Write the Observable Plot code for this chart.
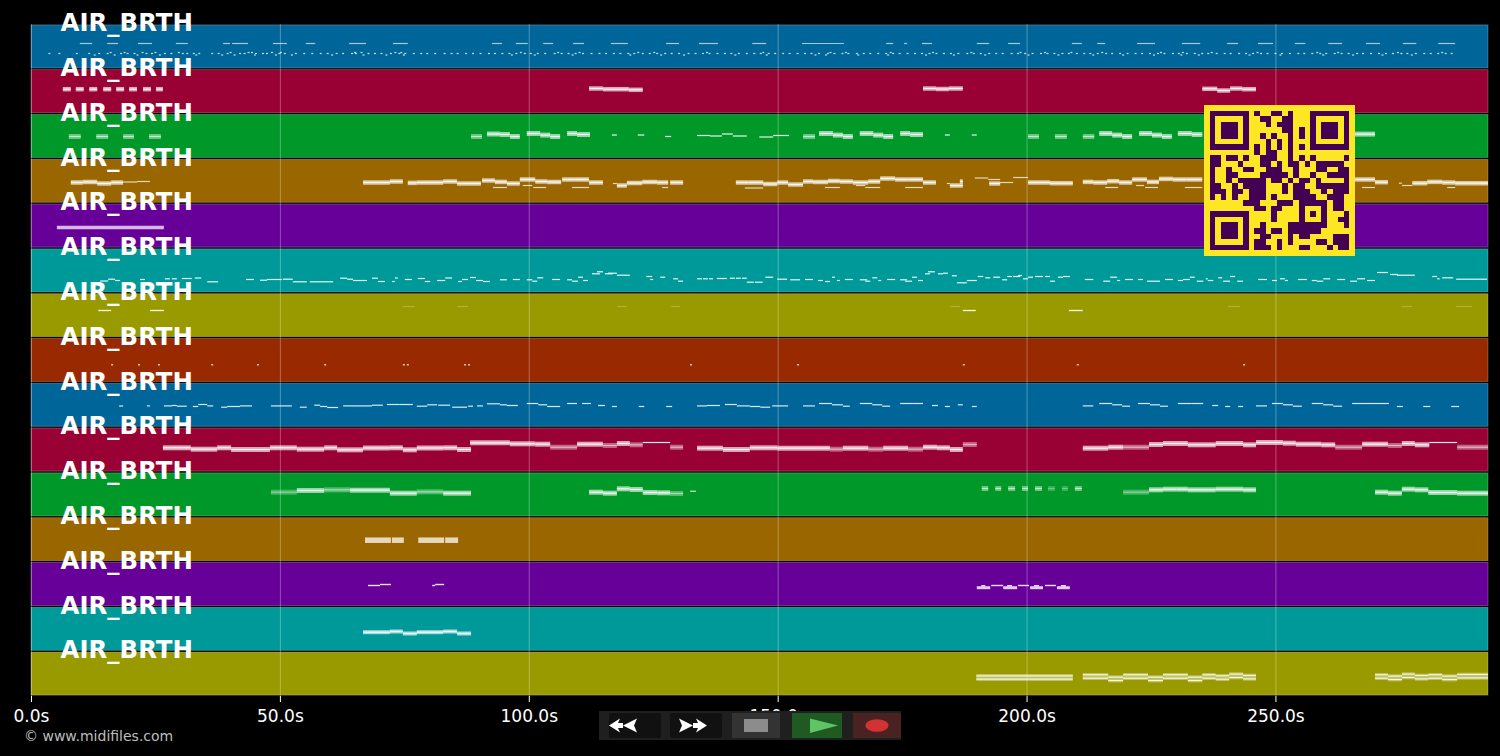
<!DOCTYPE html>
<html><head><meta charset="utf-8">
<script src="https://cdn.jsdelivr.net/npm/d3@7"></script>
<script src="https://cdn.jsdelivr.net/npm/@observablehq/plot@0.6"></script>
<style>
html,body{margin:0;padding:0;background:#000;width:1500px;height:756px;overflow:hidden;font-family:"DejaVu Sans",sans-serif}
#wrap{position:relative;width:1500px;height:756px}
#wrap svg{display:block}
#qr{position:absolute;left:1204px;top:105px;width:151px;height:151px}
#controls{position:absolute;left:599px;top:711px}
#copy{position:absolute;left:24px;top:727px;font-size:14px;color:#bdbdbd;line-height:18px}
</style></head><body>
<div id="wrap"><div id="chart"></div><div id="qr"></div>
<svg id="controls" width="302" height="29" viewBox="0 0 302 29">
<rect width="302" height="29" fill="#1f1f1f"/>
<rect x="10" y="2" width="52" height="25" rx="2" fill="#111"/>
<rect x="71" y="2" width="52" height="25" rx="2" fill="#111"/>
<rect x="133" y="2" width="48" height="25" fill="#333"/>
<rect x="193" y="2" width="50" height="25" fill="#1f5a22"/>
<rect x="254" y="2" width="48" height="25" fill="#4a2222"/>
<path fill="#fff" d="M10 14.5 L21 7.5 L19 12 L24 12 L24 17 L19 17 L21 21.5 Z M24 14.5 L38 7.5 L35 14.5 L38 21.5 Z"/>
<path fill="#fff" d="M108 14.5 L97 7.5 L99 12 L94 12 L94 17 L99 17 L97 21.5 Z M94 14.5 L80 7.5 L83 14.5 L80 21.5 Z"/>
<rect x="145" y="8" width="24" height="13" fill="#8c8c8c"/>
<path fill="#5fc463" d="M211 7.5 L239 14.5 L211 22 Z"/>
<ellipse cx="278" cy="14.5" rx="11.5" ry="6.3" fill="#d23232"/>
</svg>
<div id="copy">© www.midifiles.com</div></div>
<script>
const laneNames = ["AIR_BRTH","AIR_BRTH","AIR_BRTH","AIR_BRTH","AIR_BRTH","AIR_BRTH","AIR_BRTH","AIR_BRTH","AIR_BRTH","AIR_BRTH","AIR_BRTH","AIR_BRTH","AIR_BRTH","AIR_BRTH","AIR_BRTH"];
const laneColors = ["#006699","#990033","#009929","#996600","#660099","#009999","#999900","#992900","#006699","#990033","#009929","#996600","#660099","#009999","#999900"];
const tickSeconds = [0,50,100,150,200,250];
const totalSeconds = 292.7;

// Notes: [start s, end s, position in the lane (0 top – 44.8 bottom), optional velocity]
const lane0Line = [[9.8,12.3,19],[15.3,17.5,19],[21.5,24.3,19],[29.1,31.5,19],[38.6,40,19],[40.4,43.6,19],[48.6,51.4,19],[55.2,57.1,19],[63.9,67.3,19],[72.7,75.7,19],[92.6,94.6,19],[97.4,99.8,19],[102.9,104.9,19],[108.9,111.1,19],[116.5,119.9,19],[127.6,130.2,19],[134.2,138,19],[144.9,147.7,19],[154.9,163.3,19],[171.8,173.2,19],[175.4,176,19],[179,181,19],[190,192.5,19],[196.3,198.7,19],[209.1,211.1,19],[214.2,215.8,19],[222.2,225.8,19],[231.2,234.9,19],[240.3,242.5,19],[246.5,249.5,19],[253.9,256,19],[260.6,263.4,19],[268.2,271,19],[275.6,278.3,19],[282.7,286.1,19]];
const lane0DotsMid = [3.5,5.5,9,11.5,13.5,15.2,17.9,19.2,20.6,23,24.1,26.7,28,30.3,31.2,32.5,33.6,36.2,37.5,39.3,41.8,42.7,45,46.4,47.2,49.7,50.8,53,54.7,56.3,58,59.4,61.2,62.5,64.3,65.1,67.6,68.9,70.2,72.1,73.8,75,76.7,78.2,79.4,81,82.9,84.3,85.5,87.2,88.6,90.1,91.8,93,94.5,95.9,97.3,99,100.2,101.6,103.1,105,106.4,107.8,109.2,110.7,112.4,114,115.3,116.9,118.2,119.8,121,122.7,124.1,125.6,127.2,128.5,130,131.9,133.3,134.8,136.1,137.7,139.2,140.5,142,143.6,145.1,146.4,148,149.3,150.9,152.2,153.8,155.3,156.6,158.1,159.9,161.2,162.8,164,165.7,167.1,168.4,170,171.6,173,174.3,175.9,177.4,178.8,180.3,181.7,183.2,184.6,186.1,187.9,189.2,190.6,192.3,193.7,195,196.8,198.1,199.5,201,202.7,204,205.4,207,208.3,209.9,211.4,212.6,214.1,215.8,217,218.6,220.1,221.7,223,224.6,226.2,227.5,229.2,230.4,232,233.6,235.1,236.3,238,239.6,240.8,242.5,243.9,245.3,246.9,248.2,249.8,251.1,252.7,254.4,255.6,257.2,258.8,260,261.7,263.1,264.5,266.2,267.4,269,270.6,272,273.4,275.1,276.3,278,279.7,281,282.5,284,285.2];
const lane0DotsHigh = [15.8,18.6,22.2,24.8,29.5,39.9,43.5,44.2,48.2,50,64.9,66.2,73,74.2,98.2,105.7,110,121.8,125,135.6,146.9,160.4,163.5,172.5,181,188.7,198.6,203.5,208.8,215,226.8,231.2,237,246.2,258.2,262.4,274.4,283.3];
const lane0DotsLow = [12.6,16.6,21.2,25.7,33,38.2,40.7,44.8,49,52.2,60.3,66.6,71.2,74.7,96.4,101,108.6,120.2,126.4,131,141.3,147.6,157.4,159.5,166,172,179.6,185.2,191.5,200.2,206.2,213.2,219.2,225.4,230.9,234.4,244.6,250.8,259.4,265.4,271.3,277.2];

const lane1Band = [[6.4,8,19.9],[9,10.6,19.9],[11.7,13.3,19.9],[14.5,16.1,19.9],[17.1,18.7,19.9],[19.7,21.3,19.9],[22.5,24.1,19.9],[25.1,26.5,19.9],[112.1,114.9,19.2],[114.9,120.1,19.9],[120.1,122.9,20.5],[179.2,181.8,19.2],[181.8,184.4,19.7],[184.4,187.2,19.2],[235.3,238.3,19.5],[238.3,240.9,21.2],[240.9,243.3,19.2],[243.3,246.1,19.9]];

const lane2Band = [[7.6,10,22.4,70],[13.1,15.5,22.4,70],[18.5,20.7,22.4,70],[23.7,26.1,22.4,70],[88.4,90.6,22.4,70],[91.6,94.2,19.9],[94.2,96.2,20.4],[96.2,98.2,22.4],[99.6,102.3,19.4],[102.3,104.3,21],[104.3,106.3,22.4],[107.7,109.7,19.4],[109.7,112.3,20.4],[155.1,157.5,22.4,70],[158.3,161.1,19.4],[161.1,163.1,21],[163.1,165.1,22.4],[166.5,169.2,19.4],[169.2,171.2,21],[171.2,173.2,22.4],[174.6,176.6,19.4],[176.6,179.2,20.4],[200.3,202.5,22.4,70],[205.7,208.1,22.4,70],[211.3,213.6,22.4,70],[214.6,217.2,19.4],[217.2,219.2,21],[219.2,221.2,22.4],[222.6,225.2,19.4],[225.2,227.2,21],[227.2,229.2,22.4],[230.4,233.2,19.4],[233.2,235.3,20.4],[266,270,20]];
const lane2Line = [[116.7,117.7,20.9],[121.9,123.2,20.9],[127.4,128.6,22.4],[133.8,136.4,21.4],[136.4,138.8,21.9],[138.8,141,19.9],[141,143.8,21.9],[146.3,149.1,22.9],[149.1,152.3,21.4],[183.6,184.6,20.9],[189,190,20.9]];

const lane3Band = [[8,10.4,23.6],[10.4,13.3,23.1],[13.3,16.1,24.6],[16.1,18.5,23.6],[66.7,72.1,23.6],[72.1,74.7,22.6],[75.7,77.5,24],[77.5,82.8,23.6],[82.8,85.6,22.6],[85.6,87.8,24.6],[87.8,90.4,24.6],[90.6,93.2,21.6],[93.2,95.6,23],[95.6,98.2,24.6],[98.2,101.3,20.6],[101.3,103.7,22.6],[103.7,106.5,23.1],[106.7,109.1,20.6],[109.1,112.1,20.6],[112.1,114.9,23.6],[117.7,119.7,26.6],[119.7,122.8,24.1],[122.8,125.8,23.1],[125.8,128,23.6],[128.4,131,23.6],[141.6,144.2,23.6],[144.2,147.1,23.6],[147.1,149.9,25.1],[149.9,152.1,23.6],[152.1,155.1,25.6],[155.1,157.1,22.6],[157.1,160.1,23.1],[160.1,162.5,22.1],[162.5,165.1,22.6],[165.1,168.2,23.6],[168.2,170.6,22.6],[170.6,173.6,19.6],[173.6,176.2,20.6],[176.2,179.2,20.6],[179.2,181.8,23.6],[184.6,187.2,26.6],[186.6,187.2,22.6],[192.5,194.7,24.6],[200.3,204.7,23.6],[204.7,209.3,24.3],[211.3,213.4,23],[213.4,216.2,23.6],[216.2,218.6,22.3],[218.6,221.2,23.6],[221.2,224.2,20.6],[224.2,226.6,23],[226.6,229.4,20],[229.4,232.2,20.6],[232.2,235.3,20.6],[266,270,20.6],[270,272.6,23.3],[277.5,280.5,24.3],[280.5,283.5,23],[283.5,286.1,23.6],[286.1,292.7,24.3]];
const lane3Line = [[18.5,21.3,23.1],[21.3,23.9,22.6],[92.8,95.6,28.6],[98.8,100.7,26.6],[100.9,103.5,28.6],[108.7,112.1,28.6],[116.9,117.7,24.6],[126.8,128,28.6],[143.4,147.1,29.1],[159.5,162.5,28.6],[165.7,167.6,26.6],[167.6,170.6,28.6],[175.6,179.2,28.6],[184,184.6,24.6],[189.6,192.3,19.1],[192.3,194.7,20.6],[194.7,197.3,23.6],[197.3,200.3,18.6],[215.8,218.4,28.6],[222,223.6,26.6],[223.8,226.4,28.6],[231.8,235.3,28.6],[267.4,270,28.6],[274.8,275.4,24.3],[275.4,277.5,26.6],[284.5,286.1,28.6]];

const lane4Band = [[5.2,26.7,23.8]];

const lane5Line = [[13.9,15.5,32.5],[15.5,16.9,30.7],[16.9,17.9,32],[21.9,22.9,31],[26.9,27.9,30.3],[28.3,29.3,30.3],[30.3,32.3,30],[32.9,34.2,29.5],[35.4,37.6,33.3],[43.2,44.8,31],[46,47.4,31.7],[47.4,50.4,31],[50.6,52.6,30.7],[52.6,55.4,33.3],[56,60.7,33.3],[62.1,63.5,29.7],[63.5,64.7,30.7],[64.7,67.5,32],[68.5,69.7,29.7],[69.7,71.1,33],[72.5,73.1,33],[73.1,73.7,29.5],[75.1,76.5,31],[77.7,79.1,30],[79.1,80.2,33],[81.6,83.2,32],[83.2,84.6,29.5],[85.8,86.6,33],[86.6,87.8,31],[88.2,89.4,29],[89.4,90.8,32],[90.8,92.2,33],[94.2,95.6,31.3],[96.8,98.2,31],[99.6,100.7,31.3],[100.7,101.7,32.7],[101.7,102.9,29.3],[104.7,106.3,31],[107.7,108.7,31.3],[108.7,109.9,32.7],[109.9,110.9,28.7],[110.9,111.9,32],[112.7,114.3,25.3],[113.7,114.9,23.3],[115.3,116.9,25.3],[115.9,117.7,24.7],[117.7,120.3,26.7],[123.6,124.8,28],[124.4,125,31],[126.4,127.4,28.7],[129,130,30.3],[130,131,32.7],[133.8,134.8,30.3],[135,136,30.3],[136.2,137,30.3],[137.8,139.8,30],[140.4,141.4,29.7],[141.6,142.6,29.7],[142.8,143.8,29.7],[143.8,145.2,33.7],[145.4,147,33.7],[147.5,149.1,28.7],[149.9,151.9,30.7],[152.5,153.1,31.3],[153.1,154.5,31.3],[155.5,157.1,31],[158.1,159.1,32],[159.5,160.5,33],[160.9,161.5,28.7],[161.9,162.5,32],[163.5,165.1,31],[166.5,168,31.3],[167.6,168.6,32.7],[169,170,29.3],[170.2,170.8,32],[172,173.6,31],[174.6,176,31.3],[175.6,177,32.7],[177,178,28.7],[178.2,179.2,32],[179.6,180.6,25.3],[180.2,181.6,23.3],[182.2,183.2,25.3],[183.2,184.2,24.7],[185,186,27.3],[186,188,34.3],[188,190,32],[190.2,191.3,28],[191.7,192.7,29.3],[193.3,194.7,28.7],[195.1,196.1,31.3],[196.1,197.1,28],[197.3,198.7,28],[198.3,199.1,27],[199.3,200.3,30.3],[200.3,201.3,28.7],[201.7,203.3,28],[203.7,204.7,28],[204.7,205.7,32.7],[206.3,207.3,28.7],[207.3,208.7,28],[211.7,213.4,31],[215.4,216.8,32.7],[216.8,218.2,28.7],[218.2,218.8,32],[219.8,221.4,31],[222.4,223.4,31],[224.2,226.8,32.7],[227.8,229.4,31],[230.4,231.4,32],[231.4,232.8,31],[232.8,233.8,28.7],[234.2,235.5,32.7],[236,236.4,30.3],[236.4,237.5,32],[238.5,239.3,29.3],[239.5,240.9,32.7],[240.9,241.9,28],[242.3,243.5,32.7],[246.5,248.3,31],[249.3,250.3,32],[250.9,251.9,30.3],[251.9,252.5,32],[254.5,256.3,31],[257.3,258.3,32],[258.3,259.6,32.7],[259.6,261,30.3],[262.4,264,31],[265,266.4,32.7],[266.4,268,30.3],[268.4,270,32],[270.4,272.6,24],[273,274.6,26],[274.4,278,26.7],[281.5,282.5,28],[282.5,283,30.3],[283.5,284.5,29.3],[284.5,285.7,29.3],[286.3,292.5,30.7]];

const lane6Line = [[13.5,16.1,17.2],[23.9,26.7,17.2],[187.2,189.8,17.2],[208.5,211.3,17.2],[74.7,77.1,13.2,25],[85.6,87.8,13.2,25],[117.7,119.7,13.2,25],[128.6,130.4,13.2,25],[184.6,186.6,13.2,25],[240.5,242.9,13.2,25],[275.4,277.5,13.2,25],[286.3,289.5,13.2,25]];
const lane7Dots = [16.1,21.5,25.5,36.2,45.4,58.9,74.7,75.5,87,87.8,132.4,153.9,187.2,210.1,243.5];

const lane8Line = [[17.7,18.5,23.1],[23.3,23.9,23],[26.7,28.3,23],[28.3,29.3,22.6],[29.3,31.3,23.3],[32.5,33.6,23.6],[33.6,35.4,21.6],[35.4,36.6,23],[38.2,39.4,24.3],[39.4,42,23.6],[42,44.4,23],[48.2,50.6,23],[50.6,52.4,23],[54,55.4,24.3],[56.9,58.1,22.3],[58.1,59.5,23.6],[59.5,61.7,24.6],[62.7,64.1,23],[64.1,68.5,23],[68.5,70.7,22.3],[71.5,74.1,21.6],[74.1,76.7,21.6],[77.5,79.6,23.3],[79.6,81.6,21.9],[81.8,84.2,22.3],[84.6,87.6,24.3],[87.8,88.8,23.3],[89.6,90.8,23],[91.6,94.2,20.9],[94.2,95.6,21.9],[95.6,97.8,22.6],[99.6,101.9,20.6],[101.9,103.7,21.9],[103.7,106.3,23.6],[107.7,109.7,20.6],[110.7,112.5,20.6],[113.9,115.3,22.6],[116.7,117.7,23.6],[122.1,123.2,23.6],[127.6,128.8,23.6],[133.8,135.8,23],[135.8,138.4,22.6],[139.4,141.8,21.6],[141.8,144.4,23],[144.4,146.5,23.6],[146.5,148.5,24.3],[148.9,152.1,23],[155.1,157.5,23],[158.3,160.9,20.6],[160.9,163.1,21.9],[163.1,164.5,23.3],[166.5,169,20.6],[169,171,21.9],[171,172.6,23.3],[174.6,177,20.6],[177,179.2,20.6],[181,182.2,22.6],[183.6,184.6,23.6],[186.2,187.2,21.9],[189,190,23.6],[211.3,213.4,23],[214.6,217.2,20.6],[217.2,219.2,21.9],[219.2,220.8,23.3],[222.4,224.8,20.6],[224.8,226.8,21.9],[226.8,228.4,23.3],[230.4,233.2,20.6],[233.2,235.5,20.6],[237.3,238.5,22.6],[239.9,240.9,23.6],[242.5,243.5,23.6],[246.1,248.3,23],[249.3,251.5,20.6],[251.5,253.5,21.9],[253.5,255.3,23.3],[257.3,259.6,20.6],[259.6,261.6,21.9],[261.6,263.4,23.3],[265.4,268,20.6],[268,272.8,20.6],[274.4,275.6,23.6],[279.7,281.1,23.6],[285.3,286.9,23.6]];

const lane9Band = [[26.5,32.1,20.1],[32.1,37.4,21.5],[37.4,40.2,20.1],[40.2,45.4,21.8],[45.4,48,21.8],[48,53.4,20.1],[53.4,58.9,21.5],[58.9,61.5,20.1],[61.5,66.7,22.1],[66.7,72.1,20.3],[72.1,74.7,20.1],[74.7,77.5,22.1],[77.5,82.8,20.3],[82.8,85.6,20.1],[85.6,88.4,21.8],[88.2,96.2,15.1],[96.2,101.3,16.1],[101.3,104.3,16.5],[104.3,109.7,19.5,60],[109.7,114.9,16.5],[114.9,117.7,17.8,60],[117.7,120.3,15.8],[120.3,122.9,17.1,60],[128.4,131,19.5,60],[133.8,139,20.5],[139,144.4,21.8],[144.4,149.9,20.1],[149.9,160.5,20.5],[160.5,163.1,21.5,60],[163.1,168.2,20.5],[168.2,171.2,21.5,60],[171.2,176.2,20.5],[176.2,179.2,21.5,60],[179.2,182,19.5],[182,184.6,20.1],[184.6,187.2,21.8],[187.2,190,16.8,60],[211.3,216.4,20.5],[216.4,219.4,19.5],[219.4,224.6,19.5,60],[224.6,227.4,16.8],[227.4,232.4,15.8],[232.4,238,17.1],[238,243.5,15.8],[243.5,246.1,17.1],[246.1,251.5,14.8],[251.5,254.1,15.5],[254.1,259.2,16.5],[259.2,262,17.1],[262,267.4,19.5,60],[267.4,272.6,16.5],[272.6,275.4,17.8,60],[275.4,278,15.8],[278,280.9,17.1],[286.5,292.7,19.5,60]];
const lane9Line = [[122.9,128.4,14.8],[280.9,286.5,14.8]];

const lane10Band = [[48.2,53.4,19.7,45],[53.4,58.9,18],[58.9,64.1,17.3,55],[64.1,72.1,17.7],[72.1,77.5,20.7],[77.5,82.8,19.3,55],[82.8,88.4,20.7],[112.1,114.9,19.7],[114.9,117.7,20.7],[117.7,120.3,16.3],[120.3,122.9,17],[122.9,125.8,20],[125.8,128.4,20.3],[128.4,131,21,55],[191,192.3,16,70],[193.7,194.9,16,70],[196.3,197.7,16,70],[199.1,200.3,16,70],[201.7,203.1,16,70],[204.3,205.7,16,35],[207.1,208.3,16,35],[209.7,211.1,16,70],[219.4,224.6,19.7,45],[224.6,227.4,17.3],[227.4,230.2,16.7],[230.2,232.4,16.7],[232.4,238,17.3],[238,243.5,16.7],[243.5,246.1,17.3],[270,272.6,19.7],[272.6,275.4,20.7],[275.4,278,16.7],[278,280.7,17.3],[280.7,286.5,20],[286.5,292.7,20.7]];
const lane10Line = [[132.4,133.6,18.7]];
const lane11Band = [[67.1,72.3,22.9],[72.5,74.9,22.9],[77.8,83,22.9],[83.2,85.8,22.9]];
const lane12Line = [[67.7,70.1,23.4],[70.1,72.3,22.4],[80.6,81.2,23.4],[81.2,83,22.4],[190.9,191.7,23.6],[192.9,195.3,23.4],[196.1,197.1,23.6],[198.3,200.5,23.4],[201.5,202.5,23.6],[203.7,205.9,23.4],[206.9,207.9,23.6]];
const lane12Band = [[190,192.7,25.6],[195.3,198.1,25.6],[200.7,203.3,25.6],[206.1,208.7,25.6]];
const lane13Band = [[66.7,72.1,25.3],[72.1,74.7,24.6],[74.7,77.5,26.6],[77.5,82.8,25.3],[82.8,85.6,24.6],[85.6,88.4,26.6]];
const lane14Band = [[189.9,200.1,25.8],[200.1,209.3,25.8],[211.3,216.4,24.8],[216.4,219.4,27.1],[219.4,224.4,24.8],[224.4,227.4,27.1],[227.4,232.4,24.8],[232.4,235.3,27.1],[235.3,238,24.8],[238,240.7,25.8],[240.7,243.5,24.1],[243.5,246.1,25.5],[270,272.6,24.8],[272.6,275.4,26.1],[275.4,278,24.1],[278,280.7,25.5],[280.7,283.5,24.8],[283.5,286.5,26.1],[286.5,292.7,24.5]];

const qrDark = [
[0,1,2,3,4,5,6,8,11,12,14,18,19,20,21,22,23,24],
[0,6,9,10,13,14,18,24],
[0,2,3,4,6,10,12,13,14,18,20,21,22,24],
[0,2,3,4,6,13,14,16,18,20,21,22,24],
[0,2,3,4,6,9,11,14,16,18,20,21,22,24],
[0,6,10,12,14,18,24],
[0,1,2,3,4,5,6,8,10,12,14,16,18,19,20,21,22,23,24],
[8,10,11,14],
[0,1,3,4,6,9,10,11,14,16,18,24],
[0,1,5,9,10,12,14,15,17,19,20,21,22,23],
[0,3,6,7,10,11,12,15,19,20,23,24],
[0,3,4,9,10,11,12,13,15,18,21,22,23,24],
[0,3,5,6,7,8,9,11,12,14,16,17,19,24],
[0,1,4,6,7,8,9,13,15,16,19,20,21,22,23,24],
[0,1,2,4,5,7,8,9,13,15,16,17,20,22,23,24],
[0,2,4,7,8,9,11,15,16,17,18,21,22,23],
[6,7,8,12,13,14,16,17,18,19,20,22,23],
[8,9,11,12,16,20,22,23],
[0,1,2,3,4,5,6,11,16,18,20,24],
[0,6,11,16,20,23,24],
[0,2,3,4,6,9,14,15,16,17,18,19,20,24],
[0,2,3,4,6,8,9,11,12,14,15,16,17,18,19],
[0,2,3,4,6,9,10,14,16,17,22,23,24],
[0,6,8,9,12,14,19,20,22,23,24],
[0,1,2,3,4,5,6,8,9,10,12,16,17,21,23,24]
];

const laneUnits = 44.8;
const laneCount = laneNames.length;
const laneRows = laneNames.map((name,i)=>({name,i,fill:laneColors[i]}));
const notes = (lane,list,shift=0)=>list.map(([a,b,p,v=100])=>({a,b,y:lane*laneUnits+p+shift,v}));
const dots = (lane,p,list,len)=>list.map(t=>({a:t,b:t+len,y:lane*laneUnits+p,v:100}));

const bands = (list,width,op,center=true)=>[
  Plot.ruleY(list,{x1:"a",x2:"b",y:"y",stroke:"#fff",strokeWidth:width,strokeOpacity:d=>op*d.v/100}),
  ...(center?[Plot.ruleY(list,{x1:"a",x2:"b",y:"y",stroke:"#fff",strokeWidth:1.2,strokeOpacity:d=>0.9*d.v/100})]:[])
];
const lines = (list,width,op,stroke="#fff")=>[
  Plot.ruleY(list,{x1:"a",x2:"b",y:"y",stroke,strokeWidth:width,strokeOpacity:d=>op*d.v/100})
];

const chart = Plot.plot({
  width:1500,height:756,marginLeft:31,marginRight:12,marginTop:24,marginBottom:60,
  style:{background:"#000",color:"#fff",fontFamily:"DejaVu Sans"},
  x:{domain:[0,totalSeconds],axis:null},
  y:{domain:[laneCount*laneUnits,0],axis:null},
  opacity:{type:"identity"},
  marks:[
    Plot.rect(laneRows,{x1:()=>0,x2:()=>totalSeconds,y1:d=>d.i*laneUnits+0.9,y2:d=>(d.i+1)*laneUnits-0.9,fill:"fill",stroke:"#fff",strokeOpacity:0.3,strokeWidth:0.8}),
    Plot.ruleX(tickSeconds,{y1:0,y2:laneCount*laneUnits,stroke:"#fff",strokeOpacity:0.3,strokeWidth:1}),
    Plot.axisX({ticks:tickSeconds,tickFormat:d=>d.toFixed(1)+"s",tickSize:6,tickPadding:7,fontSize:17,stroke:"#fff",fill:"#fff",label:null,anchor:"bottom",fontFamily:"DejaVu Sans"}),
    ...lines(notes(0,lane0Line),1.2,0.65),
    ...lines(dots(0,29,lane0DotsMid,0.4),1.2,0.8),
    ...lines(dots(0,28,lane0DotsHigh,0.4),1.2,0.8),
    ...lines(dots(0,30.5,lane0DotsLow,0.4),1.2,0.8),
    ...bands(notes(1,lane1Band),4.5,0.65),
    ...bands(notes(2,lane2Band),5,0.6),
    ...lines(notes(2,lane2Line),1.2,0.9),
    ...bands(notes(3,lane3Band),4.5,0.65),
    ...lines(notes(3,lane3Line),1.2,0.75),
    ...lines(notes(4,lane4Band),3.6,0.72),
    ...lines(notes(5,lane5Line),1.2,0.9),
    ...lines(notes(6,lane6Line),1.3,0.9),
    ...lines(dots(7,26.7,lane7Dots,0.4),1.3,0.85),
    ...lines(notes(8,lane8Line),1.2,0.85),
    ...bands(notes(9,lane9Band),5,0.65),
    ...lines(notes(9,lane9Line),1.2,0.9),
    ...bands(notes(10,lane10Band),5,0.6),
    ...lines(notes(10,lane10Line),1,0.9),
    ...bands(notes(11,lane11Band),5.5,0.75,false),
    ...lines(notes(12,lane12Line),1.4,0.9),
    ...lines(notes(12,lane12Band),3,0.8),
    ...bands(notes(13,lane13Band),4,0.65),
    ...lines(notes(14,lane14Band),7,0.38),
    ...lines(notes(14,lane14Band,-1.7),1.2,0.85),
    ...lines(notes(14,lane14Band,1.7),1.2,0.85),
    Plot.text(laneRows,{x:()=>5.85,y:d=>d.i*laneUnits-1.2,text:"name",textAnchor:"start",lineAnchor:"middle",fontSize:24.4,fontWeight:"bold",fontFamily:"DejaVu Sans",fill:"#fff"})
  ]
});
document.getElementById("chart").append(chart);

const qrCells = qrDark.flatMap((cols,r)=>cols.map(c=>({r:r+1,c:c+1})));
const qrDomain = d3.range(27);
const qr = Plot.plot({
  width:151,height:151,margin:0,
  style:{background:"#fde725"},
  x:{type:"band",domain:qrDomain,axis:null,padding:0,round:false},
  y:{type:"band",domain:qrDomain,axis:null,padding:0,round:false},
  marks:[Plot.cell(qrCells,{x:"c",y:"r",fill:"#440154",inset:0,shapeRendering:"crispEdges"})]
});
document.getElementById("qr").append(qr);
</script></body></html>
